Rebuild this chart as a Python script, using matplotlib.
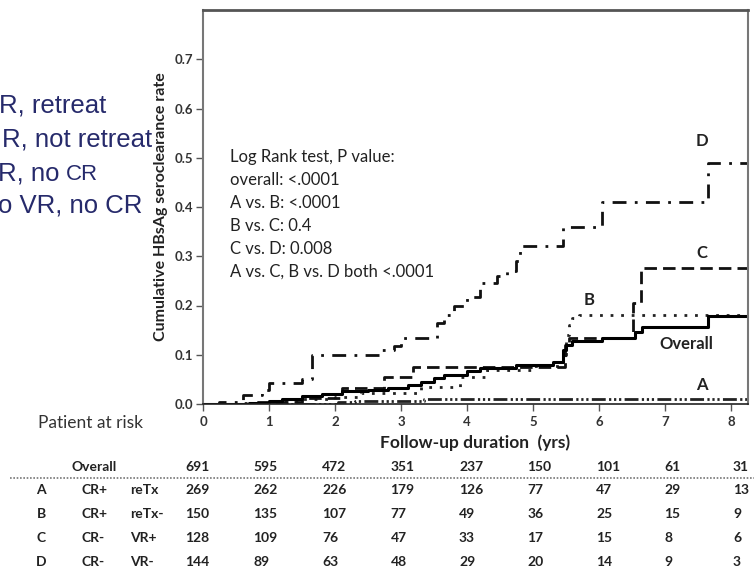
import matplotlib
matplotlib.use("Agg")
import matplotlib.pyplot as plt
from matplotlib.lines import Line2D

# Kaplan-Meier style cumulative curves (step "post")
overall_x = [0, 0.7, 1.0, 1.2, 1.5, 1.8, 2.1, 2.5, 2.8, 3.1, 3.3, 3.5, 3.65, 4.0, 4.2, 4.75, 5.3, 5.45, 5.5, 5.6, 6.05, 6.55, 6.65, 7.65]
overall_y = [0, 0.003, 0.006, 0.01, 0.016, 0.02, 0.026, 0.028, 0.033, 0.039, 0.045, 0.053, 0.059, 0.066, 0.073, 0.079, 0.086, 0.11, 0.12, 0.127, 0.134, 0.147, 0.157, 0.178]

a_x = [0, 2.05, 2.3, 3.35]
a_y = [0, 0.004, 0.006, 0.01]

b_x = [0, 0.5, 1.0, 1.5, 2.0, 2.4, 3.3, 3.9, 4.3, 5.0, 5.45, 5.5, 5.55, 5.6, 5.7]
b_y = [0, 0.003, 0.006, 0.01, 0.015, 0.022, 0.035, 0.055, 0.07, 0.078, 0.1, 0.14, 0.16, 0.174, 0.181]

c_x = [0, 0.8, 1.5, 2.1, 2.75, 3.18, 5.49, 5.55, 6.52, 6.64]
c_y = [0, 0.005, 0.012, 0.033, 0.055, 0.076, 0.12, 0.134, 0.205, 0.277]

d_x = [0, 0.25, 0.6, 0.9, 1.0, 1.5, 1.65, 2.7, 2.9, 3.0, 3.55, 3.65, 3.8, 4.0, 4.2, 4.45, 4.6, 4.75, 4.8, 5.45, 6.04, 7.65]
d_y = [0, 0.005, 0.018, 0.028, 0.042, 0.05, 0.1, 0.11, 0.118, 0.134, 0.165, 0.18, 0.2, 0.218, 0.245, 0.26, 0.27, 0.29, 0.32, 0.36, 0.41, 0.49]

X_END = 8.26

pvalue_lines = ["Log Rank test, P value:", "overall: <.0001", "A vs. B: <.0001",
                "B vs. C: 0.4", "C vs. D: 0.008", "A vs. C, B vs. D both <.0001"]

# patients at risk table
risk_groups = ["A", "B", "C", "D"]
risk_cr = ["CR+", "CR+", "CR-", "CR-"]
risk_sub = ["reTx", "reTx-", "VR+", "VR-"]
risk_overall = [691, 595, 472, 351, 237, 150, 101, 61, 31]
risk_a = [269, 262, 226, 179, 126, 77, 47, 29, 13]
risk_b = [150, 135, 107, 77, 49, 36, 25, 15, 9]
risk_c = [128, 109, 76, 47, 33, 17, 15, 8, 6]
risk_d = [144, 89, 63, 48, 29, 20, 14, 9, 3]

legend_left = ["R, retreat", "R, not retreat", "R, no", "o VR, no CR"]

W, H = 754, 574
fig = plt.figure(figsize=(W / 100, H / 100), dpi=100)
ax = fig.add_axes([203 / W, 1 - 404 / H, (748 - 203) / W, (404 - 10) / H])


def px(x, y):
    return x / W, 1 - y / H


def ext(xs, ys):
    return list(xs) + [X_END], list(ys) + [ys[-1]]


xs, ys = ext(a_x, a_y)
ax.step(xs, ys, where="post", color="#222", lw=2.0, ls=(0, (5, 1.2, 0.8, 1, 0.8, 1, 0.8, 1.2)))
xs, ys = ext(b_x, b_y)
ax.step(xs, ys, where="post", color="#222", lw=2.0, ls=(0, (1, 2.8)))
xs, ys = ext(c_x, c_y)
ax.step(xs, ys, where="post", color="#111", lw=2.0, ls=(0, (4.5, 2.2)))
xs, ys = ext(d_x, d_y)
ax.step(xs, ys, where="post", color="#111", lw=2.0, ls=(0, (1, 3, 5, 3)))
xs, ys = ext(overall_x, overall_y)
ax.step(xs, ys, where="post", color="black", lw=2.2)

ax.set_xlim(0, X_END)
ax.set_ylim(0, 0.80)
ax.set_yticks([0, 0.1, 0.2, 0.3, 0.4, 0.5, 0.6, 0.7])
ax.set_yticklabels([f"{v:.1f}" for v in [0, 0.1, 0.2, 0.3, 0.4, 0.5, 0.6, 0.7]])
ax.set_xticks(range(0, 9))

for lab in ax.get_xticklabels() + ax.get_yticklabels():
    lab.set_fontfamily("Lato")
    lab.set_fontweight("bold")
    lab.set_fontsize(9.5)
    lab.set_color("#333")
ax.tick_params(axis="both", length=5, width=1, color="#555", pad=2)
ax.tick_params(axis="x", pad=4)

for side in ["left", "right"]:
    ax.spines[side].set_color("#777")
    ax.spines[side].set_linewidth(1.5)
ax.spines["top"].set_color("#555")
ax.spines["top"].set_linewidth(2)
ax.spines["bottom"].set_color("#222")
ax.spines["bottom"].set_linewidth(1.2)

ax.set_ylabel("Cumulative HBsAg seroclearance rate", family="Lato", weight="bold",
              size=11.5, color="#222", labelpad=5)
ax.set_xlabel("Follow-up duration  (yrs)", family="Lato", weight="bold",
              size=12.5, color="#222", labelpad=4)

# p values
for i, line in enumerate(pvalue_lines):
    fig.text(*px(230, 157 + i * 23), line, family="Lato", size=12,
             color="#222", va="center", ha="left")

# curve labels
curve_labels = [("D", 7.56, 0.534), ("C", 7.56, 0.307), ("B", 5.85, 0.211),
                ("Overall", 7.33, 0.122), ("A", 7.56, 0.039)]
for lab, lx, ly in curve_labels:
    ax.text(lx, ly, lab, family="Lato", weight="bold", size=12,
            color="#222", ha="center", va="center")

# legend text on the left, cut off by the figure edge as in the source
leg_base = [112, 146, 180, 212]
leg_right = [106, 152, 60, 142]
navy = "#262a6b"
for t, yy, xr in zip(legend_left, leg_base, leg_right):
    fig.text(*px(xr, yy), t, family="Liberation Sans", size=18.5, color=navy,
             ha="right", va="baseline")
fig.text(*px(98, 180), "CR", family="Liberation Sans", size=16, color=navy,
         ha="right", va="baseline")

# patients at risk table
fig.text(*px(90, 423), "Patient at risk", family="Lato", size=12.5, color="#333",
         ha="center", va="center")

col_left = [185 + 68.5 * i for i in range(9)]
tbl_font = dict(family="Lato", weight="bold", size=10, color="#222", va="center")
row_y = 467
fig.text(*px(94, row_y), "Overall", ha="center", **tbl_font)
for cx, v in zip(col_left, risk_overall):
    fig.text(*px(cx, row_y), str(v), ha="left", **tbl_font)

fig.add_artist(Line2D([10 / W, 1.0], [1 - 478 / H, 1 - 478 / H], color="#777",
                      lw=1.2, ls=(0, (1, 1))))

rows = [risk_a, risk_b, risk_c, risk_d]
for k, (g, cr, sub, vals) in enumerate(zip(risk_groups, risk_cr, risk_sub, rows)):
    yy = 490 + k * 24
    fig.text(*px(41, yy), g, ha="center", **tbl_font)
    fig.text(*px(82, yy), cr, ha="left", **tbl_font)
    fig.text(*px(130, yy), sub, ha="left", **tbl_font)
    for cx, v in zip(col_left, vals):
        fig.text(*px(cx, yy), str(v), ha="left", **tbl_font)

fig.savefig("out.png", dpi=100, facecolor="white")
